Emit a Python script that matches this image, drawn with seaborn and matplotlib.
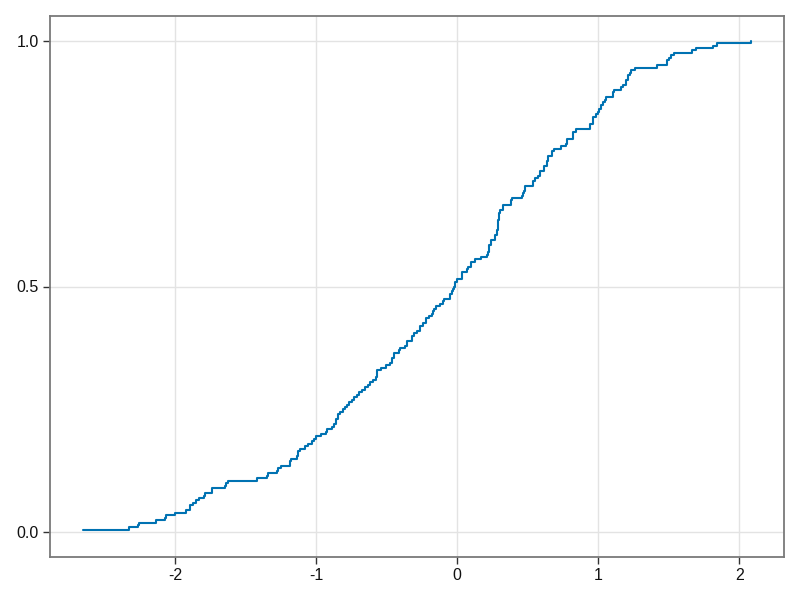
import matplotlib
matplotlib.use("Agg")
import matplotlib.pyplot as plt
import seaborn as sns
import numpy as np

values = [
    -2.649, -2.323, -2.260, -2.255, -2.132, -2.069, -2.066, -1.997, -1.919, -1.892,
    -1.890, -1.870, -1.848, -1.827, -1.792, -1.785, -1.737, -1.734, -1.644, -1.641,
    -1.622, -1.416, -1.346, -1.341, -1.275, -1.271, -1.246, -1.184, -1.181, -1.178,
    -1.134, -1.131, -1.128, -1.115, -1.076, -1.055, -1.027, -1.013, -0.999, -0.963,
    -0.928, -0.924, -0.885, -0.871, -0.858, -0.855, -0.845, -0.842, -0.829, -0.807,
    -0.793, -0.777, -0.763, -0.746, -0.729, -0.710, -0.692, -0.675, -0.652, -0.635,
    -0.621, -0.597, -0.576, -0.569, -0.568, -0.567, -0.540, -0.503, -0.479, -0.462,
    -0.460, -0.446, -0.444, -0.409, -0.405, -0.368, -0.358, -0.357, -0.321, -0.320,
    -0.305, -0.285, -0.262, -0.260, -0.243, -0.220, -0.218, -0.203, -0.175, -0.168,
    -0.167, -0.149, -0.120, -0.097, -0.090, -0.050, -0.049, -0.038, -0.030, -0.025,
    -0.014, -0.012, -0.002, 0.033, 0.034, 0.035, 0.073, 0.074, 0.097, 0.098,
    0.127, 0.170, 0.210, 0.220, 0.223, 0.226, 0.228, 0.239, 0.240, 0.268,
    0.269, 0.281, 0.282, 0.286, 0.288, 0.290, 0.292, 0.294, 0.296, 0.298,
    0.301, 0.326, 0.328, 0.380, 0.381, 0.387, 0.458, 0.470, 0.475, 0.481,
    0.482, 0.536, 0.537, 0.552, 0.572, 0.588, 0.589, 0.616, 0.617, 0.635,
    0.636, 0.646, 0.647, 0.670, 0.671, 0.687, 0.734, 0.772, 0.777, 0.779,
    0.819, 0.820, 0.822, 0.843, 0.940, 0.942, 0.961, 0.965, 0.966, 0.982,
    0.996, 1.008, 1.017, 1.018, 1.036, 1.050, 1.055, 1.106, 1.107, 1.108,
    1.159, 1.178, 1.194, 1.195, 1.213, 1.214, 1.228, 1.230, 1.261, 1.414,
    1.489, 1.490, 1.501, 1.513, 1.537, 1.662, 1.690, 1.815, 1.843, 2.080,
]

x_ticks = [-2, -1, 0, 1, 2]
x_tick_labels = ["-2", "-1", "0", "1", "2"]
y_ticks = [0.0, 0.5, 1.0]
y_tick_labels = ["0.0", "0.5", "1.0"]

sns.set_theme(style="white")
plt.rcParams["font.family"] = ["Liberation Sans", "DejaVu Sans"]
plt.rcParams["axes.unicode_minus"] = False

fig = plt.figure(figsize=(8, 6), dpi=100)
ax = fig.add_axes([0.0625, 0.0717, 0.9175, 0.9016])

sns.ecdfplot(x=values, ax=ax, color="#0072B2", linewidth=1.5)

# drop the leading (-inf, 0) segment so the curve starts at the first observation
line = ax.lines[0]
xd, yd = line.get_data()
line.set_data(np.asarray(xd)[1:], np.asarray(yd)[1:])

ax.set_xlim(-2.885, 2.316)
ax.set_ylim(-0.05, 1.05)
ax.set_xticks(x_ticks)
ax.set_xticklabels(x_tick_labels)
ax.set_yticks(y_ticks)
ax.set_yticklabels(y_tick_labels)
ax.set_xlabel("")
ax.set_ylabel("")

ax.grid(True, color="#e3e3e3", linewidth=1.0)
ax.set_axisbelow(True)
for s in ax.spines.values():
    s.set_visible(True)
    s.set_color("#7a7a7a")
    s.set_linewidth(1.3)

ax.tick_params(axis="both", which="major", direction="out", length=5, width=1,
               color="#333333", labelsize=11.5, labelcolor="#111111",
               bottom=True, left=True, top=False, right=False, pad=3)

fig.savefig("out.png", dpi=100)
